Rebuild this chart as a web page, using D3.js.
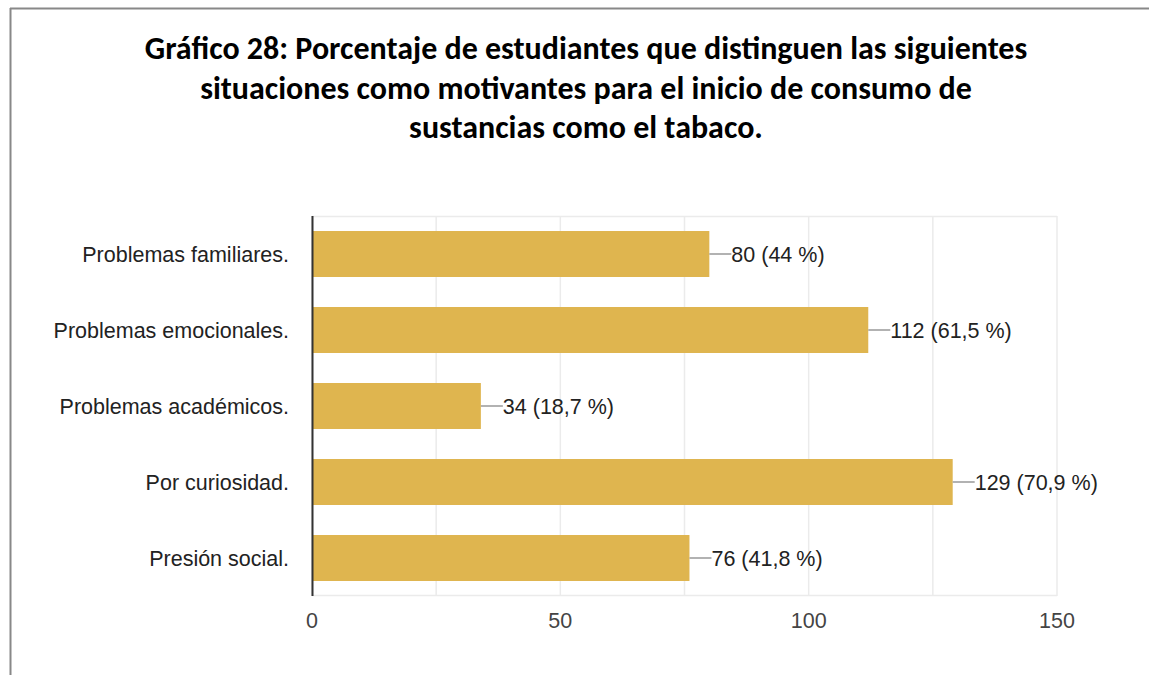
<!DOCTYPE html>
<html><head><meta charset="utf-8">
<script src="https://cdn.jsdelivr.net/npm/d3@7"></script>
<style>body{margin:0;background:#fff}svg{display:block}</style>
</head><body>
<svg id="c" width="1149" height="675"></svg>
<script>
const titleLines = ["Gráfico 28: Porcentaje de estudiantes que distinguen las siguientes",
  "situaciones como motivantes para el inicio de consumo de",
  "sustancias como el tabaco."];
const categories = ["Problemas familiares.","Problemas emocionales.","Problemas académicos.","Por curiosidad.","Presión social."];
const counts = [80,112,34,129,76];
const percents = ["44","61,5","18,7","70,9","41,8"];
const ticks = [0,50,100,150];
const gridTicks = [0,25,50,75,100,125,150];

const svg = d3.select("#c");
// frame
svg.append("line").attr("x1",10).attr("x2",1149).attr("y1",8.5).attr("y2",8.5).attr("stroke","#888").attr("stroke-width",2);
svg.append("line").attr("x1",10.5).attr("x2",10.5).attr("y1",8).attr("y2",675).attr("stroke","#888").attr("stroke-width",2);

svg.append("g").selectAll("text").data(titleLines).join("text")
  .attr("x",586).attr("y",(d,i)=>59+i*39.5).attr("text-anchor","middle")
  .attr("font-family","Carlito, 'Open Sans', sans-serif").attr("font-weight","bold")
  .attr("font-size",32).attr("fill","#000").text(d=>d);

const x = d3.scaleLinear().domain([0,150]).range([312,1057]);
const y = d3.scaleBand().domain(categories).range([216,596]).paddingInner(0.395).paddingOuter(0.1975);
const fs = 21.5;

const g = svg.append("g");
g.selectAll("line.grid").data(gridTicks).join("line").attr("class","grid")
  .attr("x1",d=>x(d)).attr("x2",d=>x(d)).attr("y1",216).attr("y2",596)
  .attr("stroke","#ebebeb").attr("stroke-width",1.5);
g.append("line").attr("x1",312).attr("x2",1057).attr("y1",216.5).attr("y2",216.5).attr("stroke","#ebebeb").attr("stroke-width",1.5);
g.append("line").attr("x1",312).attr("x2",1057).attr("y1",595.5).attr("y2",595.5).attr("stroke","#ebebeb").attr("stroke-width",1.5);

g.selectAll("rect").data(categories).join("rect")
  .attr("x",x(0)).attr("y",d=>y(d)).attr("width",(d,i)=>x(counts[i])-x(0)).attr("height",y.bandwidth())
  .attr("fill","#dfb54f");

g.append("line").attr("x1",312.5).attr("x2",312.5).attr("y1",216).attr("y2",596).attr("stroke","#333").attr("stroke-width",2);

// leader lines and value labels
g.selectAll("line.lead").data(categories).join("line").attr("class","lead")
  .attr("x1",(d,i)=>x(counts[i])).attr("x2",(d,i)=>x(counts[i])+22)
  .attr("y1",d=>y(d)+y.bandwidth()/2).attr("y2",d=>y(d)+y.bandwidth()/2)
  .attr("stroke","#999").attr("stroke-width",1.5);
g.selectAll("text.val").data(categories).join("text").attr("class","val")
  .attr("x",(d,i)=>x(counts[i])+22).attr("y",d=>y(d)+y.bandwidth()/2+7.5)
  .attr("font-family","'Liberation Sans', Arial, sans-serif").attr("font-size",fs).attr("fill","#222")
  .text((d,i)=>`${counts[i]} (${percents[i]} %)`);

// category labels
g.selectAll("text.cat").data(categories).join("text").attr("class","cat")
  .attr("x",289).attr("y",d=>y(d)+y.bandwidth()/2+7.5).attr("text-anchor","end")
  .attr("font-family","'Liberation Sans', Arial, sans-serif").attr("font-size",fs).attr("fill","#222")
  .text(d=>d);

// x tick labels
g.selectAll("text.tick").data(ticks).join("text").attr("class","tick")
  .attr("x",d=>x(d)).attr("y",628).attr("text-anchor","middle")
  .attr("font-family","'Liberation Sans', Arial, sans-serif").attr("font-size",fs).attr("fill","#444")
  .text(d=>d);
</script>
</body></html>
